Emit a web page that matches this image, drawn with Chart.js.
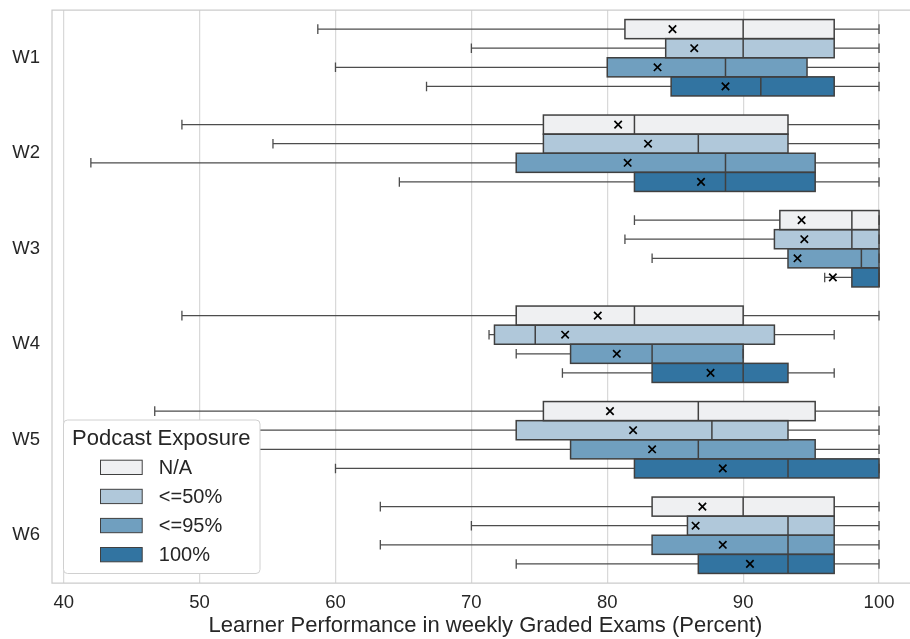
<!DOCTYPE html>
<html>
<head>
<meta charset="utf-8">
<script src="https://cdn.jsdelivr.net/npm/chart.js@4"></script>
<style>
  html, body { margin: 0; padding: 0; background: #fff; overflow: hidden; }
  #wrap { width: 920px; height: 639px; }
</style>
</head>
<body>
<div id="wrap"><canvas id="chart" width="920" height="639"></canvas></div>
<script>
const WEEKS = ['W1', 'W2', 'W3', 'W4', 'W5', 'W6'];
const X_TICKS = [40, 50, 60, 70, 80, 90, 100];

// N/A
const NA_LOW = [58.7, 48.7, 82.0, 48.7, 46.7, 63.3];
const NA_Q1 = [81.3, 75.3, 92.7, 73.3, 75.3, 83.3];
const NA_MED = [90.0, 82.0, 98.0, 82.0, 86.7, 90.0];
const NA_Q3 = [96.7, 93.3, 100, 90.0, 95.3, 96.7];
const NA_HIGH = [100, 100, 100, 100, 100, 100];
const NA_MEAN = [84.8, 80.8, 94.3, 79.3, 80.2, 87.0];

// <=50%
const LE50_LOW = [70.0, 55.4, 81.3, 71.3, 46.7, 70.0];
const LE50_Q1 = [84.3, 75.3, 92.3, 71.7, 73.3, 85.9];
const LE50_MED = [90.0, 86.7, 98.0, 74.7, 87.7, 93.3];
const LE50_Q3 = [96.7, 93.3, 100, 92.3, 93.3, 96.7];
const LE50_HIGH = [100, 100, 100, 96.7, 100, 100];
const LE50_MEAN = [86.4, 83.0, 94.5, 76.9, 81.9, 86.5];

// <=95%
const LE95_LOW = [60.0, 42.0, 83.3, 73.3, 50.0, 63.3];
const LE95_Q1 = [80.0, 73.3, 93.3, 77.3, 77.3, 83.3];
const LE95_MED = [88.7, 88.7, 98.7, 83.3, 86.7, 93.3];
const LE95_Q3 = [94.7, 95.3, 100, 90.0, 95.3, 96.7];
const LE95_HIGH = [100, 100, 100, 90.0, 100, 100];
const LE95_MEAN = [83.7, 81.5, 94.0, 80.7, 83.3, 88.5];

// 100%
const FULL_LOW = [66.7, 64.7, 96.0, 76.7, 60.0, 73.3];
const FULL_Q1 = [84.7, 82.0, 98.0, 83.3, 82.0, 86.7];
const FULL_MED = [91.3, 88.7, 100, 90.0, 93.3, 93.3];
const FULL_Q3 = [96.7, 95.3, 100, 93.3, 100, 96.7];
const FULL_HIGH = [100, 100, 100, 96.7, 100, 100];
const FULL_MEAN = [88.7, 86.9, 96.6, 87.6, 88.5, 90.5];

const SERIES = [
  { label: 'N/A', color: '#eff0f2', low: NA_LOW, q1: NA_Q1, med: NA_MED, q3: NA_Q3, high: NA_HIGH, mean: NA_MEAN },
  { label: '<=50%', color: '#b0c8da', low: LE50_LOW, q1: LE50_Q1, med: LE50_MED, q3: LE50_Q3, high: LE50_HIGH, mean: LE50_MEAN },
  { label: '<=95%', color: '#709fbf', low: LE95_LOW, q1: LE95_Q1, med: LE95_MED, q3: LE95_Q3, high: LE95_HIGH, mean: LE95_MEAN },
  { label: '100%', color: '#3274a1', low: FULL_LOW, q1: FULL_Q1, med: FULL_MED, q3: FULL_Q3, high: FULL_HIGH, mean: FULL_MEAN },
];

const EDGE = '#404040';
const WHISKER = '#4d4d4d';
const TEXT = '#262626';
const FONT = '"Liberation Sans", Arial, sans-serif';

const framePlugin = {
  id: 'frame',
  beforeDatasetsDraw(chart) {
    const { ctx, chartArea: a } = chart;
    ctx.save();
    ctx.strokeStyle = '#cccccc';
    ctx.lineWidth = 1.25;
    ctx.beginPath();
    ctx.moveTo(a.right + 5, a.top);
    ctx.lineTo(a.left, a.top);
    ctx.lineTo(a.left, a.bottom);
    ctx.lineTo(a.right + 5, a.bottom);
    ctx.stroke();
    ctx.restore();
  },
};

const boxPlugin = {
  id: 'boxes',
  afterDatasetsDraw(chart) {
    const ctx = chart.ctx;
    const xs = chart.scales.x;
    ctx.save();
    SERIES.forEach((s, di) => {
      const meta = chart.getDatasetMeta(di);
      meta.data.forEach((bar, i) => {
        const y = bar.y;
        const h = bar.height;
        const pLow = xs.getPixelForValue(s.low[i]);
        const pQ1 = xs.getPixelForValue(s.q1[i]);
        const pMed = xs.getPixelForValue(s.med[i]);
        const pQ3 = xs.getPixelForValue(s.q3[i]);
        const pHigh = xs.getPixelForValue(s.high[i]);
        const pMean = xs.getPixelForValue(s.mean[i]);

        // whiskers + caps
        ctx.strokeStyle = WHISKER;
        ctx.lineWidth = 1.3;
        ctx.beginPath();
        ctx.moveTo(pLow, y); ctx.lineTo(pQ1, y);
        ctx.moveTo(pQ3, y); ctx.lineTo(pHigh, y);
        ctx.moveTo(pLow, y - h / 4); ctx.lineTo(pLow, y + h / 4);
        ctx.moveTo(pHigh, y - h / 4); ctx.lineTo(pHigh, y + h / 4);
        ctx.stroke();

        // box outline + median
        ctx.strokeStyle = EDGE;
        ctx.lineWidth = 1.5;
        ctx.strokeRect(pQ1, y - h / 2, pQ3 - pQ1, h);
        ctx.beginPath();
        ctx.moveTo(pMed, y - h / 2); ctx.lineTo(pMed, y + h / 2);
        ctx.stroke();

        // mean marker
        const r = 3.7;
        ctx.strokeStyle = '#000000';
        ctx.lineWidth = 1.7;
        ctx.beginPath();
        ctx.moveTo(pMean - r, y - r); ctx.lineTo(pMean + r, y + r);
        ctx.moveTo(pMean - r, y + r); ctx.lineTo(pMean + r, y - r);
        ctx.stroke();
      });
    });
    ctx.restore();
  },
};

const legendPlugin = {
  id: 'boxLegend',
  afterDraw(chart) {
    const { ctx, chartArea: a } = chart;
    const left = a.left + 11.5;
    const w = 196.5;
    const h = 153.5;
    const top = a.bottom - 9.5 - h;
    ctx.save();
    ctx.beginPath();
    ctx.roundRect(left, top, w, h, 4);
    ctx.fillStyle = '#ffffff';
    ctx.fill();
    ctx.strokeStyle = '#d0d0d0';
    ctx.lineWidth = 1;
    ctx.stroke();

    ctx.fillStyle = TEXT;
    ctx.textBaseline = 'middle';
    ctx.textAlign = 'left';
    ctx.font = `22px ${FONT}`;
    ctx.fillText('Podcast Exposure', left + 8.5, top + 18.5);

    ctx.font = `20px ${FONT}`;
    SERIES.forEach((s, i) => {
      const cy = top + 47.4 + i * 29.1;
      ctx.fillStyle = s.color;
      ctx.fillRect(left + 37, cy - 7.2, 41.7, 14.3);
      ctx.strokeStyle = EDGE;
      ctx.lineWidth = 1;
      ctx.strokeRect(left + 37, cy - 7.2, 41.7, 14.3);
      ctx.fillStyle = TEXT;
      ctx.fillText(s.label, left + 95.3, cy + 1);
    });
    ctx.restore();
  },
};

new Chart(document.getElementById('chart'), {
  type: 'bar',
  data: {
    labels: WEEKS,
    datasets: SERIES.map(s => ({
      label: s.label,
      data: s.q1.map((q, i) => [q, s.q3[i]]),
      backgroundColor: s.color,
      borderWidth: 0,
      categoryPercentage: 0.8,
      barPercentage: 1.0,
    })),
  },
  options: {
    indexAxis: 'y',
    responsive: false,
    animation: false,
    devicePixelRatio: 1,
    layout: { padding: { top: 10, right: 1, left: 0, bottom: 0 } },
    plugins: {
      legend: { display: false },
      tooltip: { enabled: false },
    },
    scales: {
      x: {
        type: 'linear',
        min: 39.14,
        max: 102.94,
        afterBuildTicks: scale => { scale.ticks = X_TICKS.map(v => ({ value: v })); },
        afterFit: scale => { scale.height = 56; scale.paddingLeft = 0; scale.paddingRight = 0; },
        grid: { color: '#d9d9d9', lineWidth: 1.25, drawTicks: false },
        border: { display: false },
        ticks: { color: TEXT, font: { family: FONT, size: 18.5 }, padding: 8.5, maxRotation: 0 },
        title: {
          display: true,
          text: 'Learner Performance in weekly Graded Exams (Percent)',
          color: TEXT,
          font: { family: FONT, size: 22 },
          padding: { top: 0, bottom: 0 },
        },
      },
      y: {
        type: 'category',
        afterFit: scale => { scale.width = 52; scale.paddingTop = 0; scale.paddingBottom = 0; },
        grid: { display: false, drawTicks: false },
        border: { display: false },
        ticks: { color: TEXT, font: { family: FONT, size: 18.5 }, padding: 12 },
      },
    },
  },
  plugins: [framePlugin, boxPlugin, legendPlugin],
});
</script>
</body>
</html>
